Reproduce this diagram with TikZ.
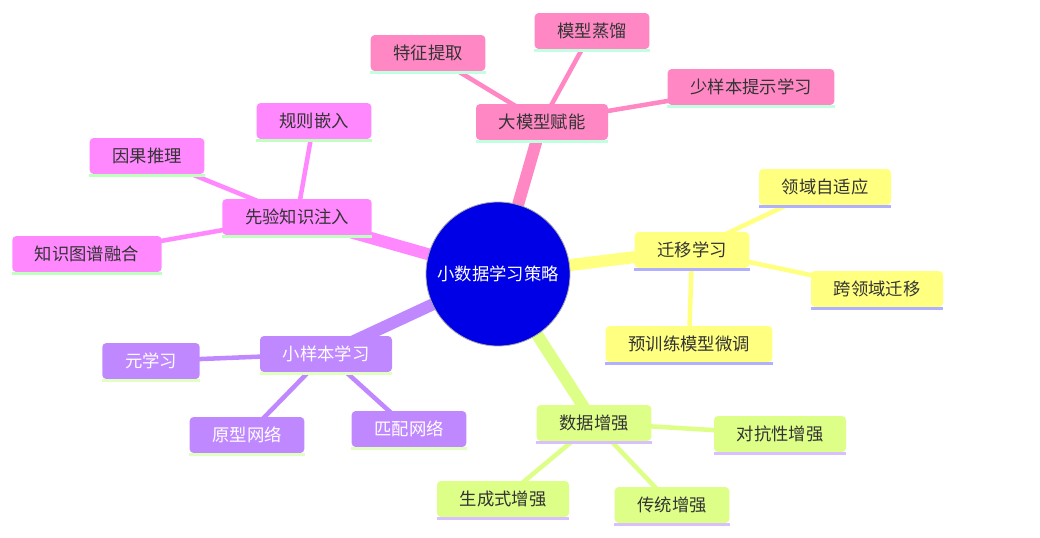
\documentclass[tikz,border=0pt]{standalone}
\usepackage{fontspec}
\newfontfamily\cjk{Noto Sans CJK SC}
\usetikzlibrary{backgrounds}
\definecolor{rootBlue}{HTML}{0000E6}
\definecolor{textDark}{HTML}{333333}
\definecolor{llmFill}{HTML}{FF88C4}
\definecolor{llmLine}{HTML}{C0FFE0}
\definecolor{priorFill}{HTML}{FF88FF}
\definecolor{priorLine}{HTML}{C0FFC0}
\definecolor{transFill}{HTML}{FFFF80}
\definecolor{transLine}{HTML}{B0B0FF}
\definecolor{fewFill}{HTML}{C088FF}
\definecolor{fewLine}{HTML}{E0FFC0}
\definecolor{augFill}{HTML}{DDFF88}
\definecolor{augLine}{HTML}{D8C0FF}

\begin{document}
\begin{tikzpicture}[
    x=0.75pt, y=-0.75pt,
    rootnode/.style={circle, draw=gray!70, fill=rootBlue, line width=0.6pt,
                     minimum size=108pt, inner sep=0pt,
                     font=\cjk\fontsize{13}{15}\selectfont, text=white},
    topic/.style={rectangle, rounded corners=3pt, fill=#1, minimum height=27pt,
                  inner xsep=17pt, inner ysep=0pt,
                  font=\cjk\fontsize{13}{15}\selectfont, text=textDark},
    trunk/.style={line width=9pt, color=#1},
    twig/.style={line width=3.4pt, color=#1},
]
\useasboundingbox (0,0) rectangle (1040,537);

\node[rootnode] (root) at (498,274) {小数据学习策略};

% main branches
\node[topic=llmFill] (llm) at (542,122) {大模型赋能};
\node[topic=priorFill] (prior) at (297,217) {先验知识注入};
\node[topic=transFill] (trans) at (692,250) {迁移学习};
\node[topic=fewFill, text=white] (few) at (326,354) {小样本学习};
\node[topic=augFill] (aug) at (594,423) {数据增强};

% leaves
\node[topic=llmFill] (feat) at (428,53) {特征提取};
\node[topic=llmFill] (distill) at (592,31) {模型蒸馏};
\node[topic=llmFill] (prompt) at (751,87) {少样本提示学习};

\node[topic=priorFill] (rule) at (314,121) {规则嵌入};
\node[topic=priorFill] (causal) at (147,156) {因果推理};
\node[topic=priorFill] (kg) at (87,254) {知识图谱融合};

\node[topic=transFill] (domada) at (825,187) {领域自适应};
\node[topic=transFill] (cross) at (877,289) {跨领域迁移};
\node[topic=transFill] (finetune) at (689,344) {预训练模型微调};

\node[topic=fewFill, text=white] (meta) at (151,361) {元学习};
\node[topic=fewFill, text=white] (proto) at (247,435) {原型网络};
\node[topic=fewFill, text=white] (match) at (409,429) {匹配网络};

\node[topic=augFill] (adv) at (780,434) {对抗性增强};
\node[topic=augFill] (gen) at (503,499) {生成式增强};
\node[topic=augFill] (trad) at (672,505) {传统增强};

% underline strips
\foreach \n/\c in {llm/llmLine, feat/llmLine, distill/llmLine, prompt/llmLine,
                   prior/priorLine, rule/priorLine, causal/priorLine, kg/priorLine,
                   trans/transLine, domada/transLine, cross/transLine, finetune/transLine,
                   few/fewLine, meta/fewLine, proto/fewLine, match/fewLine,
                   aug/augLine, adv/augLine, gen/augLine, trad/augLine}
  \fill[\c] (\n.south west) rectangle ([yshift=-2.2pt]\n.south east);

\begin{scope}[on background layer]
\draw[trunk=llmFill] (root.center) -- (llm.center);
\draw[trunk=priorFill] (root.center) -- (prior.center);
\draw[trunk=transFill] (root.center) -- (trans.center);
\draw[trunk=fewFill] (root.center) -- (few.center);
\draw[trunk=augFill] (root.center) -- (aug.center);

\foreach \a in {feat, distill, prompt} \draw[twig=llmFill] (llm.center) -- (\a.center);
\foreach \a in {rule, causal, kg} \draw[twig=priorFill] (prior.center) -- (\a.center);
\foreach \a in {domada, cross, finetune} \draw[twig=transFill] (trans.center) -- (\a.center);
\foreach \a in {meta, proto, match} \draw[twig=fewFill] (few.center) -- (\a.center);
\foreach \a in {adv, gen, trad} \draw[twig=augFill] (aug.center) -- (\a.center);
\end{scope}

\end{tikzpicture}
\end{document}
